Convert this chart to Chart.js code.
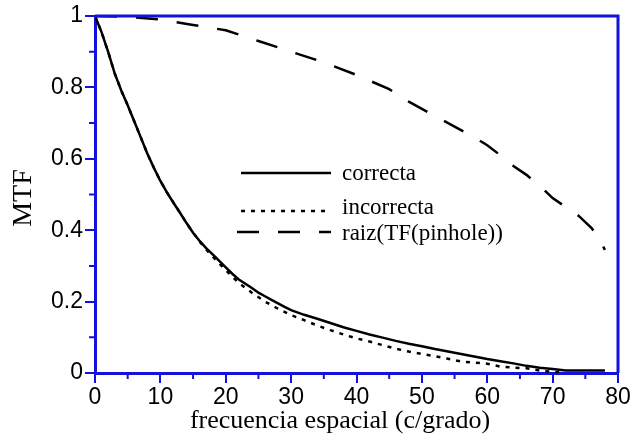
<!DOCTYPE html>
<html>
<head>
<meta charset="utf-8">
<script src="https://cdn.jsdelivr.net/npm/chart.js@4.4.1/dist/chart.umd.min.js"></script>
<style>
  html, body { margin: 0; padding: 0; background: #fff; }
  #wrap { width: 633px; height: 439px; }
</style>
</head>
<body>
<div id="wrap"><canvas id="mtf"></canvas></div>
<script>
// frecuencias (c/grado) y curvas MTF
const xCorrecta = [0, 1, 2, 3, 4, 5, 6, 7, 8, 9, 10, 11, 12, 13, 14, 15, 16, 17, 18, 19, 20,
  21, 22, 23, 24, 25, 26, 27, 28, 29, 30, 32, 34, 36, 38, 40, 42, 44, 46, 48, 50,
  52, 54, 56, 58, 60, 62, 64, 66, 68, 70, 72, 74, 76, 78];
const correcta = [1, 0.955, 0.9, 0.84, 0.792, 0.75, 0.705, 0.66, 0.615, 0.575, 0.538,
  0.506, 0.477, 0.449, 0.42, 0.393, 0.37, 0.35, 0.332, 0.314, 0.296,
  0.278, 0.262, 0.25, 0.238, 0.225, 0.215, 0.205, 0.195, 0.185, 0.176, 0.163, 0.152, 0.14,
  0.128, 0.118, 0.108, 0.099, 0.09, 0.082, 0.075, 0.067, 0.06, 0.053, 0.046, 0.039, 0.033,
  0.027, 0.02, 0.015, 0.011, 0.007, 0.007, 0.007, 0.007];

const xIncorrecta = [0, 1, 2, 3, 4, 5, 6, 7, 8, 9, 10, 11, 12, 13, 14, 15, 16, 17, 18, 19, 20,
  21, 22, 24, 26, 28, 30, 32, 34, 36, 38, 40, 42, 44, 46, 48, 50, 52, 54, 56, 58, 60,
  62, 64, 66, 68, 70, 71];
const incorrecta = [1, 0.955, 0.9, 0.84, 0.792, 0.75, 0.705, 0.66, 0.615, 0.575, 0.538,
  0.506, 0.477, 0.449, 0.42, 0.393, 0.368, 0.346, 0.326, 0.307, 0.288,
  0.27, 0.252, 0.225, 0.2, 0.18, 0.162, 0.148, 0.133, 0.12, 0.108, 0.097, 0.088, 0.078,
  0.068, 0.06, 0.053, 0.047, 0.04, 0.032, 0.029, 0.026, 0.018, 0.015, 0.013, 0.007, 0.003, 0.002];

const xPinhole = [0, 5, 10, 15, 20, 25, 30, 35, 40, 45, 48, 50, 52, 55, 58, 60, 62, 64,
  66, 68, 70, 72, 74, 76, 77, 78];
const pinhole = [1, 0.998, 0.99, 0.975, 0.96, 0.93, 0.9, 0.87, 0.835, 0.795, 0.76, 0.74,
  0.72, 0.69, 0.66, 0.638, 0.61, 0.58, 0.555, 0.525, 0.49, 0.465, 0.44, 0.405, 0.38, 0.345];

const etiquetas = ["correcta", "incorrecta", "raiz(TF(pinhole))"];

const AZUL = "#1212dc";
const serif = "'Liberation Serif', 'Times New Roman', serif";
const sans = "'Liberation Sans', Arial, sans-serif";

function puntos(xs, ys) {
  return xs.map((x, i) => ({ x: x, y: ys[i] }));
}

// marco superior/derecho, ticks menores, leyenda y títulos
const extras = {
  id: "extras",
  afterDraw(chart) {
    const { ctx, chartArea: a, scales } = chart;
    const sx = scales.x, sy = scales.y;
    ctx.save();
    ctx.strokeStyle = AZUL;
    ctx.lineWidth = 3;
    ctx.beginPath();
    ctx.moveTo(a.left, a.top);
    ctx.lineTo(a.right, a.top);
    ctx.lineTo(a.right, a.bottom);
    ctx.stroke();

    ctx.lineWidth = 2;
    ctx.beginPath();
    for (let v = 5; v < 80; v += 10) {
      const px = sx.getPixelForValue(v);
      ctx.moveTo(px, a.bottom);
      ctx.lineTo(px, a.bottom + 6);
    }
    for (let v = 0.1; v < 1; v += 0.2) {
      const py = sy.getPixelForValue(v);
      ctx.moveTo(a.left, py);
      ctx.lineTo(a.left - 6, py);
    }
    ctx.stroke();

    // leyenda
    const filas = [174, 208, 234];
    const lineaY = [173, 211, 232];
    const x0 = 241, x1 = 331, xt = 342;
    ctx.fillStyle = "#000";
    ctx.font = "23px " + serif;
    ctx.textBaseline = "middle";
    chart.data.datasets.forEach((ds, i) => {
      ctx.strokeStyle = ds.borderColor;
      ctx.lineWidth = ds.borderWidth;
      ctx.setLineDash(ds.borderDash || []);
      ctx.beginPath();
      ctx.moveTo(i === 2 ? x0 - 4 : x0, lineaY[i]);
      ctx.lineTo(x1, lineaY[i]);
      ctx.stroke();
      ctx.fillText(ds.label, xt, filas[i]);
    });
    ctx.setLineDash([]);

    // títulos de ejes
    ctx.font = "26px " + serif;
    ctx.textAlign = "center";
    ctx.textBaseline = "alphabetic";
    ctx.fillText("frecuencia espacial (c/grado)", 340, 428);
    ctx.translate(31, 198);
    ctx.rotate(-Math.PI / 2);
    ctx.font = "28px " + serif;
    ctx.fillText("MTF", 0, 0);
    ctx.restore();
  }
};

new Chart(document.getElementById("mtf"), {
  type: "line",
  data: {
    datasets: [
      {
        label: etiquetas[0],
        data: puntos(xCorrecta, correcta),
        borderColor: "#000",
        borderWidth: 2.5
      },
      {
        label: etiquetas[1],
        data: puntos(xIncorrecta, incorrecta),
        borderColor: "#000",
        borderWidth: 2.5,
        borderDash: [4, 6]
      },
      {
        label: etiquetas[2],
        data: puntos(xPinhole, pinhole),
        borderColor: "#000",
        borderWidth: 2.5,
        borderDash: [22, 19]
      }
    ]
  },
  options: {
    responsive: true,
    maintainAspectRatio: false,
    animation: false,
    events: [],
    elements: { point: { radius: 0 }, line: { tension: 0 } },
    layout: { padding: { top: 16, right: 15, left: 0, bottom: 0 } },
    plugins: {
      legend: { display: false },
      tooltip: { enabled: false }
    },
    scales: {
      x: {
        type: "linear",
        min: 0,
        max: 80,
        afterFit: (s) => { s.height = 66; },
        border: { color: AZUL, width: 3 },
        grid: { drawOnChartArea: false, color: AZUL, lineWidth: 2, tickLength: 10 },
        ticks: {
          stepSize: 10,
          color: "#000",
          padding: 1,
          maxRotation: 0,
          font: { family: sans, size: 23 }
        }
      },
      y: {
        min: 0,
        max: 1,
        afterFit: (s) => { s.width = 95; },
        border: { color: AZUL, width: 3 },
        grid: { drawOnChartArea: false, color: AZUL, lineWidth: 2, tickLength: 10 },
        ticks: {
          stepSize: 0.2,
          color: "#000",
          padding: 2,
          font: { family: sans, size: 23 },
          callback: (v) => String(Math.round(v * 10) / 10)
        }
      }
    }
  },
  plugins: [extras]
});
</script>
</body>
</html>
